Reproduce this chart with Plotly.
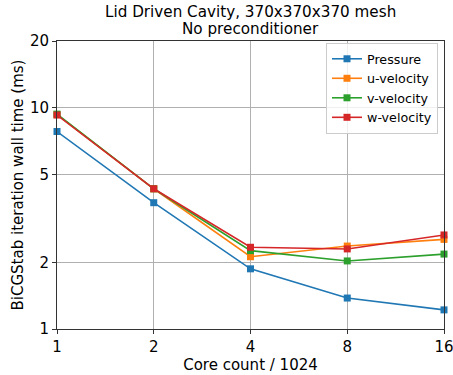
import plotly.graph_objects as go
import math

cores = [1, 2, 4, 8, 16]
pressure = [7.8, 3.72, 1.87, 1.38, 1.22]
u_vel = [9.3, 4.3, 2.12, 2.37, 2.54]
v_vel = [9.35, 4.3, 2.26, 2.03, 2.18]
w_vel = [9.26, 4.3, 2.34, 2.30, 2.66]

series = [("Pressure", pressure, "#1f77b4"),
          ("u-velocity", u_vel, "#ff7f0e"),
          ("v-velocity", v_vel, "#2ca02c"),
          ("w-velocity", w_vel, "#d62728")]

xticks = [1, 2, 4, 8, 16]
yticks = [1, 2, 5, 10, 20]
title_lines = ["Lid Driven Cavity, 370x370x370 mesh", "No preconditioner"]

fig = go.Figure()
for name, vals, col in series:
    fig.add_trace(go.Scatter(x=cores, y=vals, name=name, mode="lines+markers",
                             line=dict(color=col, width=1.6),
                             marker=dict(symbol="square", size=7, color=col),
                             cliponaxis=False))

font = "DejaVu Sans"
fig.update_layout(
    width=453, height=375,
    margin=dict(l=57, r=9, t=41, b=46, autoexpand=False),
    paper_bgcolor="white", plot_bgcolor="white",
    font=dict(family=font, size=15, color="black"),
    legend=dict(x=0.9845, y=0.993, xanchor="right", yanchor="top",
                bgcolor="rgba(255,255,255,0.8)", bordercolor="#cccccc", borderwidth=1,
                font=dict(size=12.7), itemwidth=30, tracegroupgap=0),
    showlegend=True,
)
for i, line in enumerate(title_lines):
    fig.add_annotation(text=line, xref="paper", yref="paper", x=0.5,
                       y=1 + (29 - 17 * i) / 288, xanchor="center", yanchor="middle",
                       showarrow=False, font=dict(size=15.2))

axis_common = dict(showgrid=True, gridcolor="#b0b0b0", gridwidth=0.8,
                   showline=True, linecolor="#333333", linewidth=1, mirror=True,
                   ticks="outside", ticklen=4, tickcolor="#333333", zeroline=False,
                   automargin=False, tickfont=dict(size=15), ticklabeloverflow="allow")
fig.update_xaxes(type="log", range=[0, math.log10(16)], tickvals=xticks,
                 ticktext=[str(t) for t in xticks],
                 title=dict(text="Core count / 1024", standoff=2, font=dict(size=15)),
                 **axis_common)
fig.update_yaxes(type="log", range=[0, math.log10(20)], tickvals=yticks,
                 ticktext=[str(t) for t in yticks],
                 title=dict(text="BiCGStab iteration wall time (ms)", standoff=2,
                            font=dict(size=15)),
                 **axis_common)

fig.write_html("out.html")
